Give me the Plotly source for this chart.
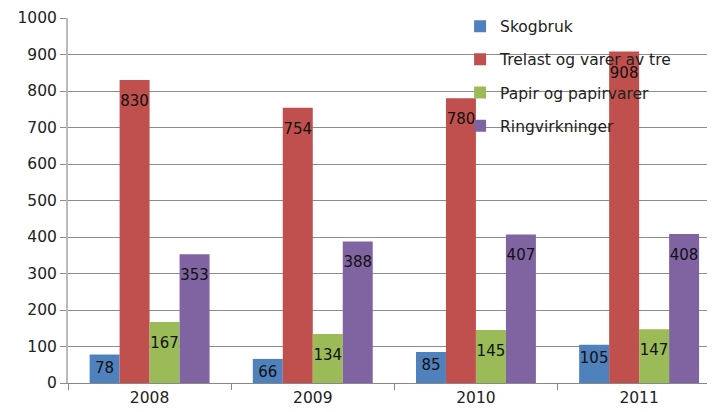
import plotly.graph_objects as go

years = ['2008', '2009', '2010', '2011']
skogbruk = [78, 66, 85, 105]
trelast = [830, 754, 780, 908]
papir = [167, 134, 145, 147]
ringvirkninger = [353, 388, 407, 408]

series = [
    ('Skogbruk', skogbruk, '#4F81BD'),
    ('Trelast og varer av tre', trelast, '#C0504D'),
    ('Papir og papirvarer', papir, '#9BBB59'),
    ('Ringvirkninger', ringvirkninger, '#8064A2'),
]

font = 'DejaVu Sans'

fig = go.Figure()
for i, (name, vals, color) in enumerate(series):
    fig.add_trace(go.Bar(
        x=years,
        y=vals,
        name=name,
        legendgroup='g%d' % i,
        offsetgroup=str(i),
        marker=dict(color=color, line=dict(width=0)),
    ))

# value labels: hidden markers push the text a little below the bar top
# (short blue bars keep their label higher up)
for i, (name, vals, color) in enumerate(series):
    fig.add_trace(go.Scatter(
        x=years,
        y=vals,
        mode='markers+text',
        marker=dict(size=10 if i == 0 else 22, opacity=0),
        text=[str(v) for v in vals],
        textposition='bottom center',
        textfont=dict(family=font, size=15, color='#111111'),
        legendgroup='g%d' % i,
        offsetgroup=str(i),
        showlegend=False,
        hoverinfo='skip',
        cliponaxis=False,
    ))

fig.update_layout(
    width=707, height=404,
    margin=dict(l=60, r=0, t=10, b=29, autoexpand=False),
    barmode='group',
    scattermode='group',
    bargap=0.265,
    scattergap=0.265,
    bargroupgap=0,
    plot_bgcolor='white',
    paper_bgcolor='white',
    font=dict(family=font, size=15.5, color='#222222'),
    showlegend=True,
    legend=dict(
        x=0.606, y=1.023, xanchor='left', yanchor='top',
        bgcolor='rgba(0,0,0,0)',
        font=dict(family=font, size=15.5, color='#222222'),
        tracegroupgap=10,
        itemwidth=30,
    ),
    xaxis=dict(
        range=[-0.5, 3.465],
        showgrid=False,
        ticks='outside', ticklen=6, tickcolor='#888888',
        tickson='boundaries',
        showline=True, linecolor='#888888', linewidth=1,
        tickfont=dict(family=font, size=15.5, color='#222222'),
    ),
    yaxis=dict(
        range=[0, 1000],
        dtick=100,
        showgrid=True, gridcolor='#8c8c8c', gridwidth=1,
        ticks='outside', ticklen=6, tickcolor='#8c8c8c',
        showline=True, linecolor='#bbbbbb', linewidth=2,
        zeroline=False,
        tickfont=dict(family=font, size=15.5, color='#222222'),
    ),
)

fig.write_html('out.html')
